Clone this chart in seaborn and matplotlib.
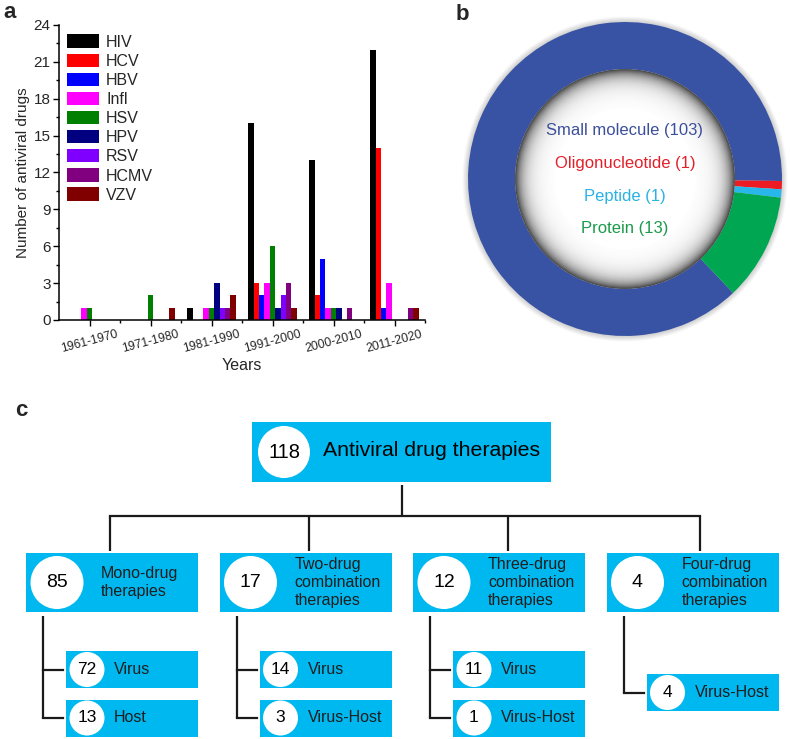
import numpy as np
import pandas as pd
import matplotlib
matplotlib.use('Agg')
import matplotlib.pyplot as plt
import seaborn as sns
from matplotlib.patches import Rectangle, Circle
from matplotlib.ticker import FixedLocator, MultipleLocator

# ---------------- data ----------------
decades = ['1961-1970', '1971-1980', '1981-1990', '1991-2000', '2000-2010', '2011-2020']
viruses = ['HIV', 'HCV', 'HBV', 'Infl', 'HSV', 'HPV', 'RSV', 'HCMV', 'VZV']
virus_colors = ['#000000', '#ff0000', '#0000ff', '#ff00ff', '#008000',
                '#000080', '#8000ff', '#800080', '#800000']
hiv = [0, 0, 1, 16, 13, 22]
hcv = [0, 0, 0, 3, 2, 14]
hbv = [0, 0, 0, 2, 5, 1]
infl = [1, 0, 1, 3, 1, 3]
hsv = [1, 2, 1, 6, 1, 0]
hpv = [0, 0, 3, 1, 1, 0]
rsv = [0, 0, 1, 2, 0, 0]
hcmv = [0, 0, 1, 3, 1, 1]
vzv = [0, 1, 2, 1, 0, 1]
y_ticks = [0, 3, 6, 9, 12, 15, 18, 21, 24]

mol_types = ['Small molecule', 'Oligonucleotide', 'Peptide', 'Protein']
mol_counts = [103, 1, 1, 13]
mol_colors = ['#3953a4', '#ed1c24', '#27b7ea', '#00a651']
mol_text_colors = ['#3c4f9c', '#e2202a', '#2ab3e4', '#1b9a4b']

total_count = 118
total_label = 'Antiviral drug therapies'
group_labels = [['Mono-drug', 'therapies'],
                ['Two-drug', 'combination', 'therapies'],
                ['Three-drug', 'combination', 'therapies'],
                ['Four-drug', 'combination', 'therapies']]
group_counts = [85, 17, 12, 4]
sub_labels = [['Virus', 'Host'], ['Virus', 'Virus-Host'], ['Virus', 'Virus-Host'], ['Virus-Host']]
sub_counts = [[72, 13], [14, 3], [11, 1], [4]]

# ---------------- style ----------------
sns.set_theme(style='ticks')
plt.rcParams['font.family'] = ['Liberation Sans', 'DejaVu Sans']

W, H = 790, 739
fig = plt.figure(figsize=(W / 100, H / 100), dpi=100)
fig.patch.set_facecolor('white')


def fx(px):
    return px / W


def fy(py):
    return 1 - py / H


# ---------------- panel a ----------------
series = [hiv, hcv, hbv, infl, hsv, hpv, rsv, hcmv, vzv]
rows = []
for v, vals in zip(viruses, series):
    for d, c in zip(decades, vals):
        rows.append({'Decade': d, 'Virus': v, 'Count': c})
df = pd.DataFrame(rows)

ax_l, ax_r, ax_t, ax_b = 59, 425, 25, 320
ax = fig.add_axes([fx(ax_l), fy(ax_b), fx(ax_r - ax_l), (ax_b - ax_t) / H])
sns.barplot(data=df, x='Decade', y='Count', hue='Virus', order=decades,
            hue_order=viruses, palette=virus_colors, saturation=1, width=0.8,
            errorbar=None, linewidth=0, ax=ax)
ax.set_xlim(-0.5, 5.5)
ax.set_ylim(0, 24)
ax.set_yticks(y_ticks)
ax.yaxis.set_minor_locator(MultipleLocator(1.5))
ax.xaxis.set_minor_locator(FixedLocator([0.5, 1.5, 2.5, 3.5, 4.5, 5.5]))
ax.set_xticks(range(len(decades)))
ax.set_xticklabels(decades, rotation=15, ha='center', fontsize=8.7)
ax.tick_params(axis='y', labelsize=11)
ax.tick_params(which='major', direction='out', length=4, width=1, color='black', pad=2)
ax.tick_params(which='minor', direction='out', length=2.5, width=1, color='black')
ax.tick_params(axis='x', which='both', bottom=True)
for s in ['top', 'right']:
    ax.spines[s].set_visible(False)
for s in ['left', 'bottom']:
    ax.spines[s].set_color('black')
    ax.spines[s].set_linewidth(1.1)
ax.set_xlabel('Years', fontsize=11.5, labelpad=2)
ax.set_ylabel('Number of antiviral drugs', fontsize=11, labelpad=3)
ax.set_facecolor('white')
handles, labels = ax.get_legend_handles_labels()
if ax.get_legend() is not None:
    ax.get_legend().remove()
ax.legend(handles, labels, loc='upper left', bbox_to_anchor=(0.022, 0.968),
          frameon=False, fontsize=11.5, handlelength=2.0, handleheight=0.9,
          labelspacing=0.25, handletextpad=0.45, borderpad=0, borderaxespad=0)

# ---------------- panel b ----------------
cx, cy, rpx = 625, 179, 157
half = 165
pax = fig.add_axes([fx(cx - half), fy(cy + half), 2 * half / W, 2 * half / H])
pax.axis('off')
# faint outer shadow
for k in range(10):
    r = 1.035 - k * 0.035 / 10
    g = 1 - 0.18 * (k + 1) / 10
    pax.add_patch(Circle((0, 0), r, facecolor=(g, g, g), edgecolor='none', zorder=1))
r_in = 0.70
wedges, _ = pax.pie(mol_counts, colors=mol_colors, startangle=-46.5, counterclock=False,
                    radius=1, wedgeprops=dict(width=1 - r_in, edgecolor='none', linewidth=0))
for p in wedges:
    p.set_zorder(2)
# inner shadow gradient
n = 60
for k in range(n):
    r = r_in - k * (0.25 / n)
    depth = r_in - r
    g = 1 - 0.72 * np.exp(-depth / 0.055)
    pax.add_patch(Circle((0, 0), r, facecolor=(g, g, g), edgecolor='none', zorder=3))
pax.add_patch(Circle((0, 0), r_in - 0.25, facecolor='white', edgecolor='none', zorder=3))
for i, (name, cnt, col) in enumerate(zip(mol_types, mol_counts, mol_text_colors)):
    pax.text(0, 0.306 - i * 0.208, f'{name} ({cnt})', color=col, fontsize=12,
             ha='center', va='center', zorder=5)
lim = half / rpx
pax.set_xlim(-lim, lim)
pax.set_ylim(-lim, lim)
pax.set_aspect('equal')

# ---------------- panel c ----------------
cax = fig.add_axes([0, 0, 1, 1])
cax.set_xlim(0, W)
cax.set_ylim(H, 0)
cax.axis('off')
box_col = '#00b8f0'
line_col = '#1a1a1a'
txt_col = '#1e1e1e'
lw = 1.6

# panel letters
cax.text(3, 13, 'a', fontsize=16, fontweight='bold', ha='left', va='center')
cax.text(456, 15, 'b', fontsize=16, fontweight='bold', ha='left', va='center')
cax.text(15, 411, 'c', fontsize=16, fontweight='bold', ha='left', va='center')

# top box
tb_l, tb_t, tb_w, tb_h = 252, 422, 299, 60
cax.add_patch(Rectangle((tb_l, tb_t), tb_w, tb_h, facecolor=box_col, edgecolor='none'))
tcy = tb_t + tb_h / 2
cax.add_patch(Circle((tb_l + 32, tcy), 26, facecolor='white', edgecolor='none'))
cax.text(tb_l + 32, tcy, str(total_count), fontsize=14.5, ha='center', va='center', color='black')
cax.text(tb_l + 71, tcy - 1, total_label, fontsize=15.3, ha='left', va='center', color='black')

# connectors
bar_y = 516
drops = [110, 309, 508, 700]
cax.plot([402, 402], [tb_t + tb_h + 3, bar_y], color=line_col, lw=lw, solid_capstyle='butt')
cax.plot([drops[0], drops[-1]], [bar_y, bar_y], color=line_col, lw=lw, solid_capstyle='projecting')
for dx in drops:
    cax.plot([dx, dx], [bar_y, 551], color=line_col, lw=lw, solid_capstyle='butt')

# second row
gb_t, gb_h, gb_w = 553, 59, 172
gb_lefts = [26, 219.5, 413, 606.5]
sub_w, sub_h = 132, 37
line_gap = 18
for gi, (left, lines, cnt) in enumerate(zip(gb_lefts, group_labels, group_counts)):
    cyy = gb_t + gb_h / 2
    cax.add_patch(Rectangle((left, gb_t), gb_w, gb_h, facecolor=box_col, edgecolor='none'))
    cax.add_patch(Circle((left + 31, cyy), 26.5, facecolor='white', edgecolor='none'))
    cax.text(left + 31, cyy, str(cnt), fontsize=14, ha='center', va='center', color='black')
    nl = len(lines)
    for k, ln in enumerate(lines):
        cax.text(left + 75, cyy + (k - (nl - 1) / 2) * line_gap, ln, fontsize=11.5,
                 ha='left', va='center', color=txt_col)
    # sub boxes
    subs = sub_labels[gi]
    scnts = sub_counts[gi]
    if len(subs) == 2:
        centers = [669.5, 718]
    else:
        centers = [692.5]
    vx = left + 17
    cax.plot([vx, vx], [616, centers[-1]], color=line_col, lw=lw, solid_capstyle='butt')
    sl = left + 40
    for sc, lab, sct in zip(centers, subs, scnts):
        cax.plot([vx, sl - 3], [sc, sc], color=line_col, lw=lw, solid_capstyle='projecting')
        cax.add_patch(Rectangle((sl, sc - sub_h / 2), sub_w, sub_h, facecolor=box_col, edgecolor='none'))
        cax.add_patch(Circle((sl + 21, sc), 17.5, facecolor='white', edgecolor='none'))
        cax.text(sl + 21, sc, str(sct), fontsize=12.5, ha='center', va='center', color='black')
        cax.text(sl + 48, sc, lab, fontsize=11.5, ha='left', va='center', color=txt_col)

fig.savefig('out.png', dpi=100, facecolor='white')
